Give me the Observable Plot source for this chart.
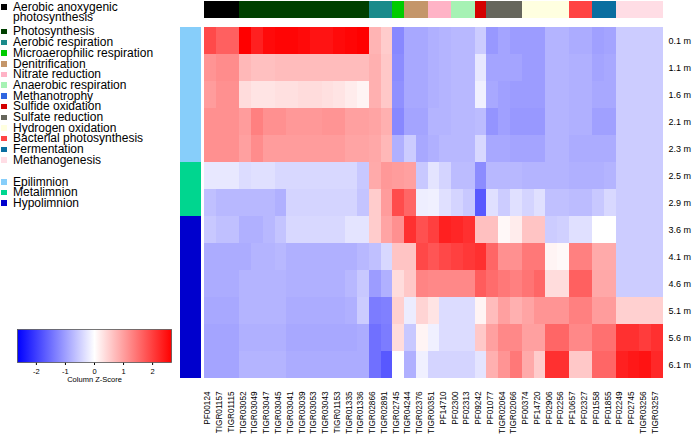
<!DOCTYPE html>
<html><head><meta charset="utf-8">
<script src="https://cdn.jsdelivr.net/npm/d3@7"></script>
<script src="https://cdn.jsdelivr.net/npm/@observablehq/plot@0.6"></script>
<style>
body{margin:0;background:#fff;}
#chart{position:relative;width:696px;height:443px;font-family:'Liberation Sans',Arial,sans-serif;overflow:hidden;background:#fff}
#chart svg{position:absolute}
.leg{position:absolute;font-size:12px;line-height:10.5px;color:#000;white-space:normal}
.sw{position:absolute;width:5.5px;height:5.5px}
</style></head><body><div id="chart"></div>
<script>
// ---- data ----
const geneIds = ["PF00124","TIGR01157","TIGR01115","TIGR03052","TIGR03049","TIGR03047","TIGR03045","TIGR03041","TIGR03039","TIGR03053","TIGR03043","TIGR01153","TIGR01335","TIGR01336","TIGR02866","TIGR02891","TIGR02745","TIGR04244","TIGR02376","TIGR00351","PF14710","PF02300","PF02313","PF09242","PF01077","TIGR02064","TIGR02066","PF00374","PF14720","PF02906","PF02256","PF10657","PF02327","PF01558","PF01855","PF02249","PF02745","TIGR03256","TIGR03257"];

const functionNames = ["Aerobic anoxygenic photosynthesis","Photosynthesis","Aerobic respiration","Microaerophilic respiration","Denitrification","Nitrate reduction","Anaerobic respiration","Methanotrophy","Sulfide oxidation","Sulfate reduction","Hydrogen oxidation","Bacterial photosynthesis","Fermentation","Methanogenesis"];
const functionColors = ["#000000","#004000","#1a8a8a","#00cc00","#c4966a","#ffb3c6","#a6f2b4","#2f66e0","#d40000","#66665c","#ffffe0","#ff4444","#0a6ea0","#ffdde5"];

const geneFunction = [
 "Aerobic anoxygenic photosynthesis","Aerobic anoxygenic photosynthesis","Aerobic anoxygenic photosynthesis",
 "Photosynthesis","Photosynthesis","Photosynthesis","Photosynthesis","Photosynthesis","Photosynthesis","Photosynthesis","Photosynthesis","Photosynthesis","Photosynthesis","Photosynthesis",
 "Aerobic respiration","Aerobic respiration",
 "Microaerophilic respiration",
 "Denitrification","Denitrification",
 "Nitrate reduction","Nitrate reduction",
 "Anaerobic respiration","Anaerobic respiration",
 "Sulfide oxidation",
 "Sulfate reduction","Sulfate reduction","Sulfate reduction",
 "Hydrogen oxidation","Hydrogen oxidation","Hydrogen oxidation","Hydrogen oxidation",
 "Bacterial photosynthesis","Bacterial photosynthesis",
 "Fermentation","Fermentation",
 "Methanogenesis","Methanogenesis","Methanogenesis","Methanogenesis"];

const depths = ["0.1 m","1.1 m","1.6 m","2.1 m","2.3 m","2.5 m","2.9 m","3.6 m","4.1 m","4.6 m","5.1 m","5.6 m","6.1 m"];
const zoneNames = ["Epilimnion","Metalimnion","Hypolimnion"];
const zoneColors = ["#87cefa","#00d68f","#0000cd"];
const depthZone = ["Epilimnion","Epilimnion","Epilimnion","Epilimnion","Epilimnion","Metalimnion","Metalimnion","Hypolimnion","Hypolimnion","Hypolimnion","Hypolimnion","Hypolimnion","Hypolimnion"];

// column z-scores per depth (one value per gene, in geneIds order)
const z_0_1 = [1.88,1.65,1.65,2.65,2.32,2.55,2.6,2.6,2.55,2.45,2.45,2.55,2.6,2.65,0.78,0.53,-1.24,-0.90,-0.90,-0.82,-0.78,-0.74,-0.74,-0.53,-1.07,-0.95,-1.03,-1.03,-1.03,-0.78,-0.78,-0.86,-0.86,-0.99,-0.95,-0.53,-0.53,-0.53,-0.53];
const z_1_1 = [1.11,1.20,1.20,0.74,0.65,0.65,0.70,0.70,0.70,0.70,0.70,0.70,0.70,0.70,0.82,0.57,-1.20,-0.90,-0.90,-0.82,-0.78,-0.74,-0.74,-0.24,-0.95,-0.95,-0.95,-1.03,-1.03,-0.78,-0.78,-0.82,-0.82,-0.95,-0.90,-0.53,-0.53,-0.53,-0.53];
const z_1_6 = [1.03,1.15,1.15,0.36,0.28,0.28,0.32,0.32,0.36,0.36,0.32,0.28,0.20,0.11,0.82,0.57,-1.15,-0.90,-0.90,-0.82,-0.78,-0.74,-0.74,-0.16,-0.90,-0.99,-1.03,-1.03,-1.03,-0.78,-0.78,-0.82,-0.82,-0.90,-0.90,-0.53,-0.53,-0.53,-0.53];
const z_2_1 = [1.15,1.15,1.15,1.03,1.32,1.15,1.15,1.07,1.07,1.07,1.11,1.11,0.99,0.99,0.95,0.82,-1.24,-0.95,-0.95,-0.78,-0.78,-0.74,-0.74,-0.70,-1.11,-0.99,-1.07,-1.07,-1.07,-0.78,-0.78,-0.82,-0.82,-0.99,-0.99,-0.53,-0.53,-0.53,-0.53];
const z_2_3 = [1.15,1.15,1.15,0.99,1.20,1.03,1.03,1.03,1.03,1.03,1.03,1.03,0.95,0.95,0.90,0.74,-0.82,-0.53,-0.90,-0.82,-0.74,-0.74,-0.74,-0.41,-0.90,-0.90,-0.95,-0.95,-0.95,-0.78,-0.78,-0.86,-0.86,-0.86,-0.86,-0.53,-0.53,-0.53,-0.53];
const z_2_5 = [-0.24,-0.24,-0.24,-0.36,-0.32,-0.32,-0.41,-0.41,-0.41,-0.41,-0.41,-0.41,-0.41,-0.57,0.88,1.07,1.03,0.99,-0.57,-0.28,-0.45,-0.70,-0.70,-1.20,-0.74,-0.74,-0.74,-0.78,-0.78,-0.78,-0.78,-0.82,-0.82,-0.82,-0.78,-0.53,-0.53,-0.53,-0.53];
const z_2_9 = [-0.65,-0.74,-0.74,-0.74,-0.74,-0.74,-0.82,-0.45,-0.45,-0.45,-0.45,-0.45,-0.45,-0.61,0.53,1.03,1.86,1.59,-0.18,-0.16,-0.32,-0.45,-0.57,-1.74,-0.32,-0.53,-0.32,-0.45,-0.32,-0.65,-0.65,-0.70,-0.70,-0.57,-0.41,-0.53,-0.53,-0.53,-0.53];
const z_3_6 = [-0.57,-0.65,-0.65,-0.82,-0.82,-0.74,-0.61,-0.41,-0.41,-0.41,-0.41,-0.41,-0.28,-0.28,0.53,0.95,1.15,2.15,1.82,2.00,2.32,2.25,2.15,0.65,0.65,0.07,0.20,0.61,0.61,-0.53,-0.49,-0.32,-0.32,0.0,0.0,-0.53,-0.53,-0.53,-0.53];
const z_4_1 = [-0.86,-0.86,-0.86,-0.86,-0.78,-0.78,-0.74,-0.82,-0.82,-0.82,-0.82,-0.82,-0.82,-0.74,-0.65,-0.41,0.61,0.61,1.90,1.77,1.90,1.98,2.07,2.15,1.59,1.15,1.15,1.40,1.40,0.11,0.07,1.32,1.32,0.88,0.88,-0.53,-0.53,-0.53,-0.53];
const z_4_6 = [-0.86,-0.86,-0.86,-0.78,-0.78,-0.78,-0.78,-0.82,-0.82,-0.82,-0.82,-0.82,-0.74,-0.57,-1.03,-0.82,0.36,0.57,1.28,1.24,1.24,1.24,1.24,1.69,1.53,1.40,1.32,1.44,1.59,0.36,0.36,1.65,1.65,0.90,0.90,-0.53,-0.53,-0.53,-0.53];
const z_5_1 = [-0.90,-0.90,-0.90,-0.78,-0.78,-0.78,-0.78,-0.86,-0.86,-0.86,-0.86,-0.86,-0.82,-0.53,-1.36,-1.32,0.49,-0.20,0.45,0.28,-0.36,-0.36,-0.36,0.11,0.70,0.99,0.82,0.95,1.11,1.11,1.11,1.32,1.32,1.03,1.03,0.49,0.49,0.49,0.49];
const z_5_6 = [-0.95,-0.95,-0.95,-0.82,-0.82,-0.82,-0.82,-0.90,-0.90,-0.90,-0.90,-0.90,-0.90,-0.86,-1.49,-1.36,0.36,-0.57,0.11,-0.16,-0.36,-0.36,-0.36,0.57,0.99,1.24,1.24,0.99,0.99,1.59,1.59,1.24,1.24,1.49,1.49,2.15,2.15,2.03,2.15];
const z_6_1 = [-0.95,-0.95,-0.95,-0.78,-0.78,-0.78,-0.78,-0.86,-0.86,-0.86,-0.86,-0.86,-0.86,-0.86,-1.49,-1.74,0.0,-0.82,-0.16,-0.45,-0.45,-0.45,-0.45,-0.28,0.82,1.11,1.40,0.88,0.53,2.15,2.15,0.57,0.57,1.59,1.59,2.32,2.40,2.45,2.23];
const zByDepth = [z_0_1,z_1_1,z_1_6,z_2_1,z_2_3,z_2_5,z_2_9,z_3_6,z_4_1,z_4_6,z_5_1,z_5_6,z_6_1];

const keyDomain = [-2.65, 0, 2.65];
const keyColors = ["#0000ff", "#ffffff", "#ff0000"];
const keyTicks = [-2, -1, 0, 1, 2];
const keyLabel = "Column Z-Score";

// ---- build ----
const FONT = "'Liberation Sans', Arial, Helvetica, sans-serif";
const cells = [];
depths.forEach((d, j) => geneIds.forEach((g, i) => cells.push({depth: d, gene: g, z: zByDepth[j][i]})));

const root = document.getElementById("chart");
const W = 696, H = 443;
const mL = 204, mR = 33, mT = 21, mB = 60;

const main = Plot.plot({
  width: W, height: H,
  marginLeft: mL, marginRight: mR, marginTop: mT, marginBottom: mB,
  x: {domain: geneIds, axis: null, padding: 0},
  y: {domain: depths, axis: null, padding: 0},
  color: {type: "linear", domain: keyDomain, range: keyColors, interpolate: "rgb"},
  style: {fontFamily: FONT, background: "transparent", color: "#000"},
  marks: [
    Plot.cell(cells, {x: "gene", y: "depth", fill: "z", inset: 0, shapeRendering: "crispEdges"}),
    Plot.text(geneIds, {x: d => d, text: d => d, frameAnchor: "bottom", rotate: -90, textAnchor: "end", dy: 8, fontSize: 8.2, fill: "#000"}),
    Plot.text(depths, {y: d => d, text: d => d, frameAnchor: "right", textAnchor: "start", dx: 5, fontSize: 9, fill: "#000"})
  ]
});
main.style.left = "0px"; main.style.top = "0px";
root.appendChild(main);

const topBar = Plot.plot({
  width: W, height: 19,
  marginLeft: mL, marginRight: mR, marginTop: 1, marginBottom: 1,
  x: {domain: geneIds, axis: null, padding: 0},
  color: {type: "ordinal", domain: functionNames, range: functionColors},
  style: {background: "transparent"},
  marks: [Plot.cell(geneIds, {x: d => d, fill: (d, i) => geneFunction[i], inset: 0, shapeRendering: "crispEdges"})]
});
topBar.style.left = "0px"; topBar.style.top = "0px";
root.appendChild(topBar);

const sideBar = Plot.plot({
  width: 21, height: H,
  marginLeft: 0, marginRight: 0, marginTop: mT, marginBottom: mB,
  y: {domain: depths, axis: null, padding: 0},
  color: {type: "ordinal", domain: zoneNames, range: zoneColors},
  style: {background: "transparent"},
  marks: [Plot.cell(depths, {y: d => d, fill: (d, i) => depthZone[i], inset: 0, shapeRendering: "crispEdges"})]
});
sideBar.style.left = "180px"; sideBar.style.top = "0px";
root.appendChild(sideBar);

const key = Plot.plot({
  width: 200, height: 70,
  marginLeft: 17, marginRight: 29, marginTop: 9, marginBottom: 28,
  x: {domain: [keyDomain[0], keyDomain[2]], ticks: keyTicks, tickSize: 3, tickPadding: 3, tickFormat: d => String(d), label: null},
  y: {domain: [0, 1], axis: null},
  style: {fontFamily: FONT, fontSize: "7.5px", background: "transparent", color: "#000"},
  marks: [
    Plot.frame({fill: "#ffffff", stroke: "#555", strokeWidth: 0.8}),
    Plot.text([keyLabel], {text: d => d, frameAnchor: "bottom", dy: 19.5, fontSize: 7.5, fill: "#000"})
  ]
});
{
  const ns = "http://www.w3.org/2000/svg";
  const defs = document.createElementNS(ns, "defs");
  const lg = document.createElementNS(ns, "linearGradient");
  lg.setAttribute("id", "zkeygrad");
  lg.setAttribute("x1", "0"); lg.setAttribute("x2", "1"); lg.setAttribute("y1", "0"); lg.setAttribute("y2", "0");
  keyDomain.forEach((v, k) => {
    const s = document.createElementNS(ns, "stop");
    s.setAttribute("offset", String((v - keyDomain[0]) / (keyDomain[2] - keyDomain[0])));
    s.setAttribute("stop-color", keyColors[k]);
    lg.appendChild(s);
  });
  defs.appendChild(lg);
  key.insertBefore(defs, key.firstChild);
  const r = key.querySelector("rect");
  if (r) r.setAttribute("fill", "url(#zkeygrad)");
}
key.style.left = "0px"; key.style.top = "320px";
root.appendChild(key);

// ---- legends ----
function addItem(label, color, yc) {
  const sw = document.createElement("div");
  sw.className = "sw";
  sw.style.left = "1px"; sw.style.top = (yc - 2.75) + "px"; sw.style.background = color;
  root.appendChild(sw);
  const t = document.createElement("div");
  t.className = "leg";
  t.style.left = "13px"; t.style.top = (yc - 5.25) + "px"; t.style.width = "165px";
  t.textContent = label;
  root.appendChild(t);
}
functionNames.forEach((n, i) => addItem(n, functionColors[i], i === 0 ? 7 : 31.7 + (i - 1) * 10.7));
zoneNames.forEach((n, i) => addItem(n, zoneColors[i], 182 + i * 10.4));
</script></body></html>
